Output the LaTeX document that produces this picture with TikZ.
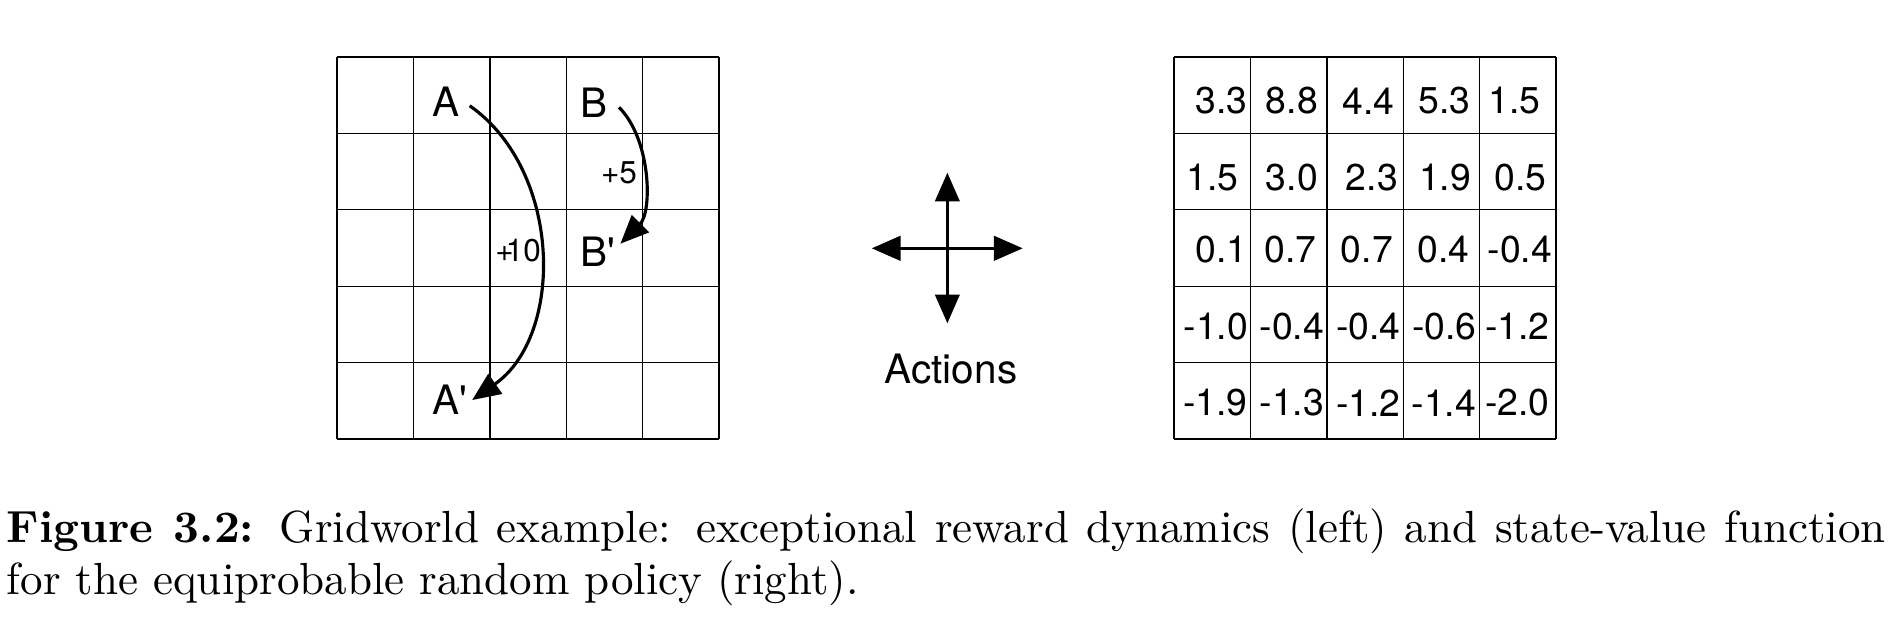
\documentclass[tikz,border=0pt]{standalone}
\usepackage{fontspec}
\newfontfamily\helv{TeX Gyre Heros}[Ligatures=TeXOff]
\usepackage{tikz}
\usetikzlibrary{arrows.meta,positioning}

\tikzset{
  gridline/.style={line width=0.3pt},
  lbl/.style={font=\helv\fontsize{9}{10.8}\selectfont,inner sep=1pt},
  rwd/.style={font=\helv\fontsize{7}{8.4}\selectfont,inner sep=0pt},
  val/.style={font=\helv\fontsize{8.3}{10}\selectfont,inner sep=0pt},
  jump/.style={line width=0.7pt,-{Triangle[length=6.3pt,width=5.3pt]}},
  move/.style={line width=0.75pt,{Triangle[length=6.4pt,width=5.4pt]}-{Triangle[length=6.4pt,width=5.4pt]}},
}

\begin{document}
\begin{tikzpicture}[x=1cm,y=1cm]
  \useasboundingbox (0,0) rectangle (14.859,-4.969);
  % left grid: special states
  \begin{scope}[shift={(2.633,-3.430)},x=0.597cm,y=0.597cm]
    \foreach \i in {0,...,5} {
      \draw[gridline] (\i,0) -- (\i,5);
      \draw[gridline] (0,\i) -- (5,\i);
    }
    \node[lbl] (A) at (1.43,4.42) {A};
    \node[lbl] (B) at (3.36,4.40) {B};
    \node[lbl] (Ap) at (1.47,0.51) {A'};
    \node[lbl] (Bp) at (3.41,2.45) {B'};
    \node[rwd] (r10) at (2.37,2.46) {+\kern-1.8pt10};
    \node[rwd] (r5) at (3.69,3.48) {+5};
  \end{scope}
  \draw[jump] ([shift={(1pt,-1pt)}]A.east) to[out=-35,in=35,looseness=0.98] (Ap.east);
  \draw[jump] ([shift={(1.4pt,-1pt)}]B.east) to[out=-45,in=45,looseness=0.85] ([yshift=1.8pt]Bp.east);

  % actions
  \coordinate (act) at (7.401,-1.940);
  \coordinate (up) at (7.401,-1.349);
  \coordinate (down) at (7.401,-2.526);
  \coordinate (left) at (6.810,-1.940);
  \coordinate (right) at (7.990,-1.940);
  \draw[move] (left) -- (right);
  \draw[move] (up) -- (down);
  \node[lbl,anchor=base,inner sep=0pt] (actions) at (7.43,-2.994) {Actions};

  % right grid: state values
  \begin{scope}[shift={(9.172,-3.430)},x=0.597cm,y=0.597cm]
    \foreach \i in {0,...,5} {
      \draw[gridline] (\i,0) -- (\i,5);
      \draw[gridline] (0,\i) -- (5,\i);
    }
    \foreach \c/\v/\dx in {0/3.3/2.0,1/8.8/0.7,2/4.4/0.7,3/5.3/0.6,4/1.5/-0.7}
      \node[val,xshift=\dx pt,yshift=-1.3pt] (v1\c) at (\c+0.5,4.5) {\v};
    \foreach \c/\v/\dx in {0/1.5/0.0,1/3.0/0.7,2/2.3/1.5,3/1.9/0.8,4/0.5/0.5}
      \node[val,xshift=\dx pt,yshift=-1.3pt] (v2\c) at (\c+0.5,3.5) {\v};
    \foreach \c/\v/\dx in {0/0.1/2.0,1/0.7/0.4,2/0.7/0.4,3/0.4/0.4,4/-0.4/0.4}
      \node[val,xshift=\dx pt,yshift=-0.45pt] (v3\c) at (\c+0.5,2.5) {\v};
    \foreach \c/\v/\dx in {0/-1.0/0.8,1/-0.4/0.7,2/-0.4/0.7,3/-0.6/0.6,4/-1.2/-0.15}
      \node[val,xshift=\dx pt,yshift=-0.45pt] (v4\c) at (\c+0.5,1.5) {\v};
    \foreach \c/\v/\dx in {0/-1.9/0.7,1/-1.3/0.7,2/-1.2/0.7,3/-1.4/0.5,4/-2.0/-0.15}
      \node[val,xshift=\dx pt,yshift=-0.45pt] (v5\c) at (\c+0.5,0.5) {\v};
  \end{scope}

  % caption
  \node[anchor=base west,inner sep=0pt,text width=417.6pt,align=justify,
        font=\fontsize{10}{11.4}\selectfont] (caption) at (0.047,-4.240)
    {\textbf{Figure 3.2:} Gridworld example: exceptional reward dynamics (left) and state-value function\linebreak for the equiprobable random policy (right).};
\end{tikzpicture}
\end{document}
